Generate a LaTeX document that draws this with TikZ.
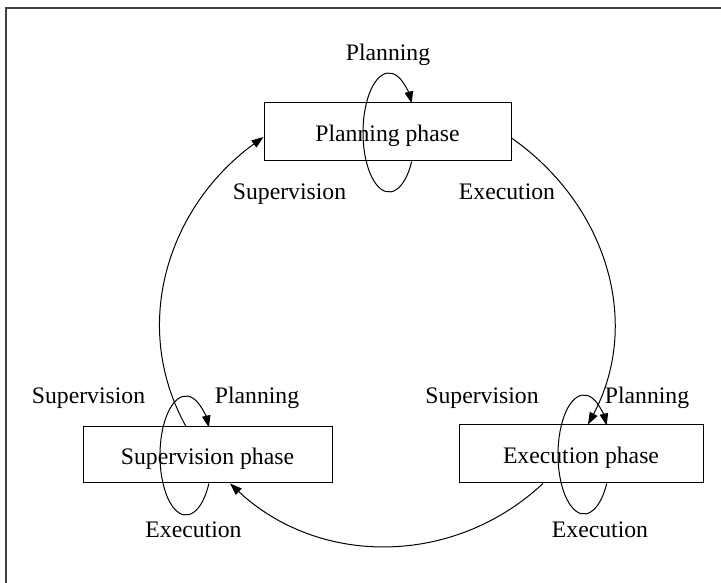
\documentclass[tikz,border=0pt]{standalone}
\usepackage{fontspec}
\setmainfont{Liberation Serif}
\usetikzlibrary{arrows.meta,calc}
\begin{document}
\begin{tikzpicture}[x=1pt,y=1pt,
  txt/.style={font=\fontsize{23.7}{28}\selectfont, inner sep=0pt},
  lbl/.style={txt, anchor=base},
  phase/.style={draw, line width=1pt, txt, text height=20pt, text depth=0pt},
  conn/.style={line width=1pt, -{Triangle[length=12pt,width=8.5pt]}},
  frameline/.style={line width=1.6pt, black!75}
]
\useasboundingbox (0,0) rectangle (721,583);
\draw[frameline] (721,575) -- (6,575) -- (6,0);

% phase boxes
\node[phase, minimum width=247pt, minimum height=58pt] (pp) at (387.5,451) {Planning phase};
\node[phase, minimum width=249pt, minimum height=56pt] (sp) at (207.5,128) {Supervision phase};
\node[phase, minimum width=244pt, minimum height=58pt] (ep) at (581,129) {Execution phase};

% labels
\node[lbl] (lpP) at (388,522) {Planning};
\node[lbl] (lpS) at (289.5,383) {Supervision};
\node[lbl] (lpE) at (507,383) {Execution};
\node[lbl] (lsS) at (88.5,179) {Supervision};
\node[lbl] (lsP) at (257,179) {Planning};
\node[lbl] (lsE) at (193.5,45) {Execution};
\node[lbl] (leS) at (482,179) {Supervision};
\node[lbl] (leP) at (647,179) {Planning};
\node[lbl] (leE) at (600,45) {Execution};

% self loops (elliptic arcs from the bottom edge round to the top edge)
\draw[conn] ($(pp.south)+(24.2,0)$)
  arc[start angle=-29.17, end angle=-330.83, x radius=26, y radius=59.5];
\draw[conn] ($(sp.south)+(1.4,0)$)
  arc[start angle=-28.07, end angle=-331.93, x radius=26, y radius=59.5];
\draw[conn] ($(ep.south)+(25.7,0)$)
  arc[start angle=-29.17, end angle=-330.83, x radius=26, y radius=59.5];

% cycle between phases
\draw[conn] ([yshift=-6pt]pp.east) to[out=-35,in=62] ([xshift=7pt]ep.north);
\draw[conn] ([xshift=-38pt]ep.south) to[out=-137,in=-43] ([xshift=22.5pt]sp.south);
\draw[conn] ([xshift=-21.5pt]sp.north) to[out=119,in=-144] ([yshift=-5pt]pp.west);
\end{tikzpicture}
\end{document}
